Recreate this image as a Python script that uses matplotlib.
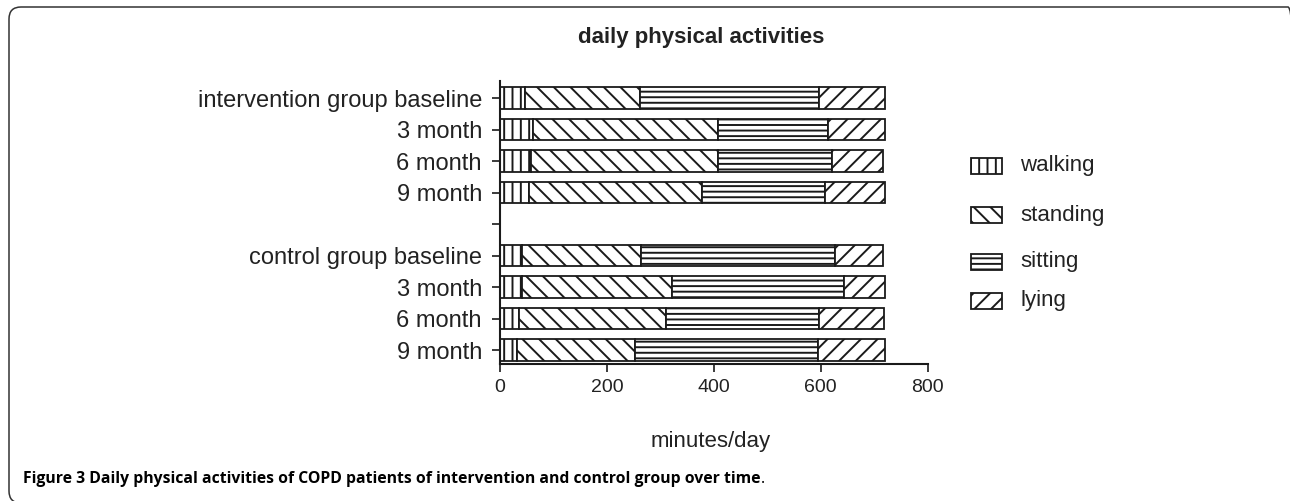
import numpy as np
import matplotlib
matplotlib.use("Agg")
import matplotlib.pyplot as plt
from matplotlib.patches import Rectangle, FancyBboxPatch
from matplotlib.transforms import IdentityTransform

plt.rcParams['font.family'] = ['Liberation Sans', 'DejaVu Sans']
plt.rcParams['hatch.linewidth'] = 1.4

# ---------------- data ----------------
categories = ['intervention group baseline', '3 month', '6 month', '9 month', '',
              'control group baseline', '3 month', '6 month', '9 month']
walking  = [47, 62, 58, 55, None, 42, 42, 36, 31]
standing = [214, 346, 350, 322, None, 221, 279, 274, 221]
sitting  = [336, 206, 213, 231, None, 363, 322, 286, 342]
lying    = [124, 106, 95, 112, None, 90, 77, 122, 126]
series_names = ['walking', 'standing', 'sitting', 'lying']
x_ticks = [0, 200, 400, 600, 800]

W, H = 1290, 501
fig = plt.figure(figsize=(W / 100, H / 100), dpi=100)
ax = fig.add_axes([500 / W, 1 - 364 / H, 427.7 / W, (364 - 80.7) / H])

series = [walking, standing, sitting, lying]
hatches = ['||', '\\\\', '---', '//']

pos = np.arange(len(categories))
mask = np.array([v is not None for v in walking])
left = np.zeros(mask.sum())
for vals, hatch, name in zip(series, hatches, series_names):
    v = np.array([x for x in vals if x is not None], dtype=float)
    ax.barh(pos[mask], v, left=left, height=0.68, color='white',
            edgecolor='#1a1a1a', linewidth=1.3, hatch=hatch, label=name)
    left = left + v

ax.set_xlim(0, 800)
ax.set_ylim(8.44, -0.55)
ax.set_xticks(x_ticks)
ax.set_xticklabels([str(t) for t in x_ticks], fontsize=14, color='#222222')
ax.set_yticks(pos)
ax.set_yticklabels(categories, fontsize=17, color='#222222')
for s in ['top', 'right']:
    ax.spines[s].set_visible(False)
for s in ['left', 'bottom']:
    ax.spines[s].set_linewidth(1.5)
    ax.spines[s].set_color('#1a1a1a')
ax.tick_params(axis='y', length=6, width=1.2, pad=7, color='#1a1a1a')
ax.tick_params(axis='x', length=6, width=1.2, pad=5, color='#1a1a1a')

ax.set_xlabel('minutes/day', fontsize=16, color='#222222')
ax.xaxis.set_label_coords((711 - 500) / 427.7, (364 - 441) / (364 - 80.7))
ax.xaxis.label.set_va('center')

# title
fig.text(701 / W, 1 - 37 / H, 'daily physical activities', fontsize=16,
         fontweight='bold', ha='center', va='center', color='#222222')

# legend (manual placement)
leg_y = [166, 215, 262, 300.5]
for name, hatch, yc in zip(series_names, hatches, leg_y):
    r = Rectangle((971, H - (yc + 8)), 31, 16, transform=IdentityTransform(),
                  facecolor='white', edgecolor='#1a1a1a', linewidth=1.3, hatch=hatch)
    fig.add_artist(r)
    fig.text(1020 / W, 1 - yc / H, name, fontsize=16, ha='left', va='center',
             color='#222222')

# frame
frame = FancyBboxPatch((9, H - 503), 1300 - 9, 503 - 7,
                       boxstyle='round,pad=0,rounding_size=12',
                       transform=IdentityTransform(), facecolor='none',
                       edgecolor='#333333', linewidth=1.1)
fig.add_artist(frame)

# caption
cap = fig.text(23 / W, 1 - 483 / H,
               'Figure 3 Daily physical activities of COPD patients of intervention and control group over time',
               fontsize=11.3, fontweight='bold', ha='left', va='baseline',
               family=['Open Sans', 'DejaVu Sans'], color='black')
fig.canvas.draw()
bb = cap.get_window_extent()
fig.text(bb.x1 / W, 1 - 483 / H, '.', fontsize=11.3, ha='left', va='baseline',
         family=['Open Sans', 'DejaVu Sans'], color='black')

fig.savefig('out.png', dpi=100)
